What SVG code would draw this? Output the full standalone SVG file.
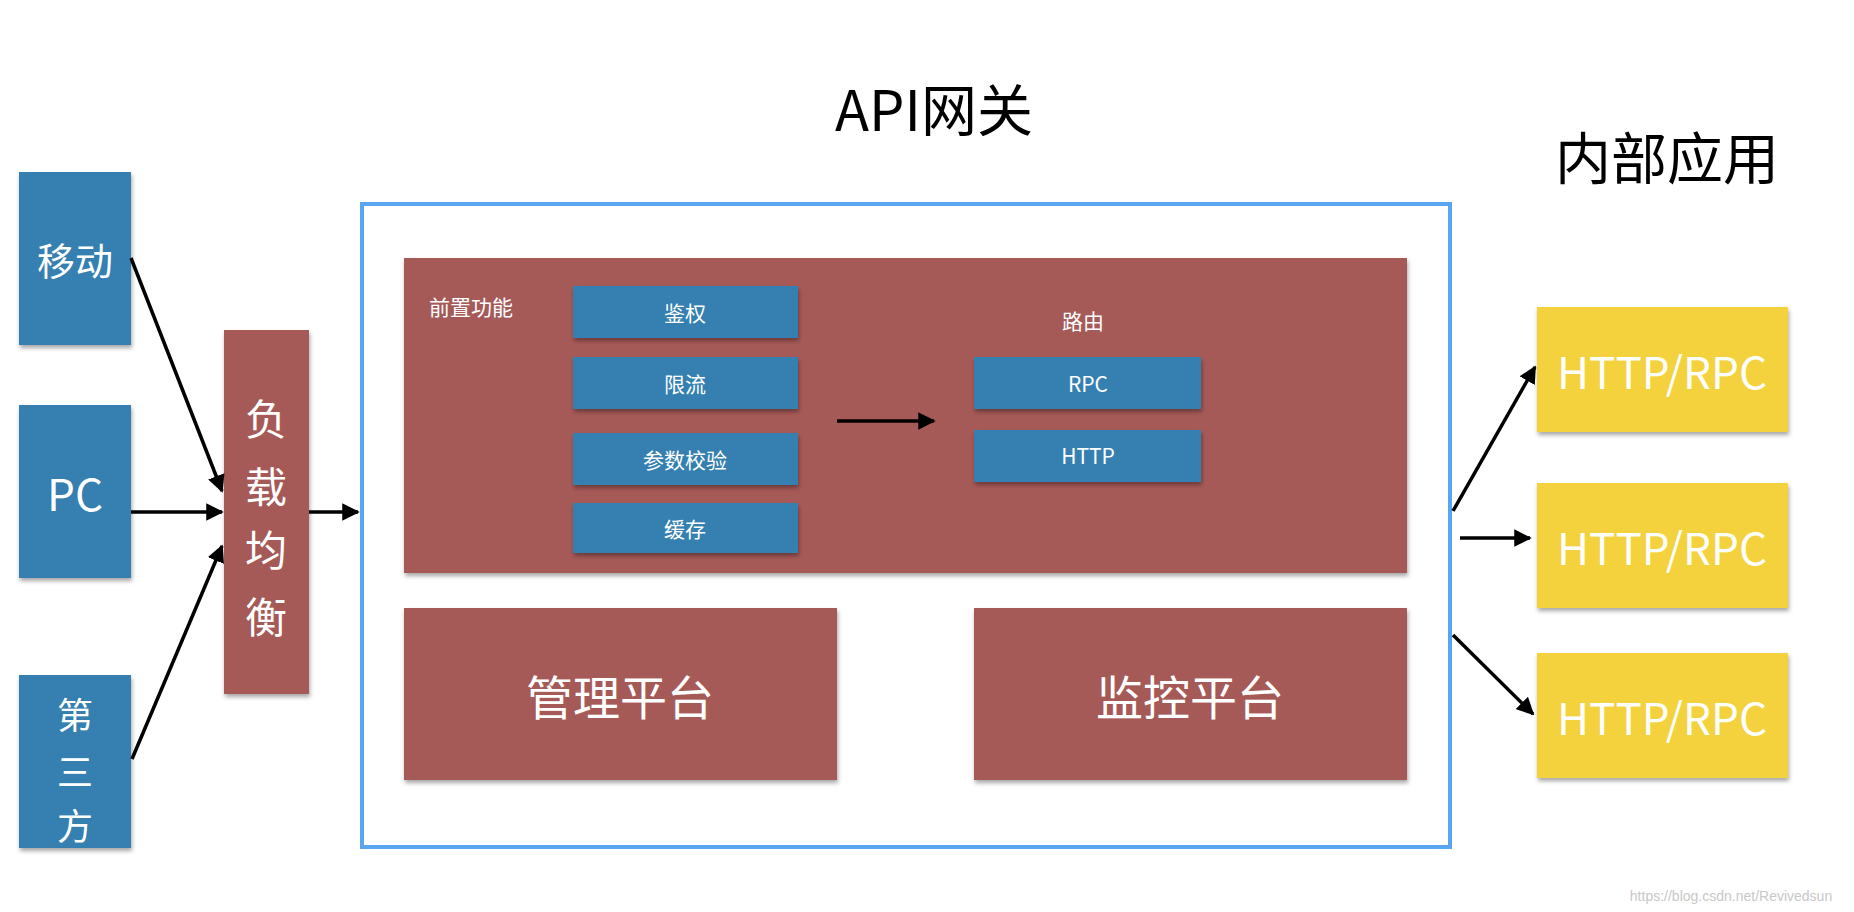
<svg xmlns="http://www.w3.org/2000/svg" width="1854" height="912" viewBox="0 0 1854 912">
<style>
text{font-family:"Noto Sans CJK SC","Liberation Sans",sans-serif;text-anchor:middle;dominant-baseline:central}
.w{fill:#fff}
.blue{fill:#3480b0;filter:url(#sh)}
.red{fill:#a65a58;filter:url(#sh)}
.yel{fill:#f3d23d;filter:url(#sh)}
.c{stroke:#000;stroke-width:3.5;fill:none;marker-end:url(#ah)}
</style>
<defs>
<filter id="sh" x="-10%" y="-10%" width="120%" height="130%"><feDropShadow dx="1" dy="3" stdDeviation="2" flood-color="#000" flood-opacity="0.35"/></filter>
<marker id="ah" viewBox="0 0 10 10" refX="9" refY="5" markerWidth="5" markerHeight="5" orient="auto" markerUnits="strokeWidth"><path d="M0,0L10,5L0,10z" fill="#000"/></marker>
</defs>
<rect width="1854" height="912" fill="#fff"/>
<text x="934" y="106" font-size="56" fill="#000">API网关</text>
<text x="1667" y="154" font-size="56" fill="#000">内部应用</text>
<g id="outer"><rect x="362" y="204" width="1088" height="643" fill="none" stroke="#5aa5f0" stroke-width="4"/></g>
<g id="mobile"><rect class="blue" x="19" y="172" width="112" height="173"/><text class="w" x="75" y="258" font-size="38">移动</text></g>
<g id="pc"><rect class="blue" x="19" y="405" width="112" height="173"/><text class="w" x="75" y="492" font-size="44">PC</text></g>
<g id="third"><rect class="blue" x="19" y="675" width="112" height="173"/><text class="w" x="75" y="713" font-size="36">第</text><text class="w" x="75" y="770" font-size="36">三</text><text class="w" x="75" y="824" font-size="36">方</text></g>
<g id="lb"><rect class="red" x="224" y="330" width="85" height="364"/><text class="w" x="266" y="416" font-size="42">负</text><text class="w" x="266" y="484" font-size="42">载</text><text class="w" x="266" y="547" font-size="42">均</text><text class="w" x="266" y="614" font-size="42">衡</text></g>
<g id="front"><rect class="red" x="404" y="258" width="1003" height="315"/><text class="w" x="471" y="306" font-size="21">前置功能</text><text class="w" x="1083" y="320" font-size="21">路由</text></g>
<g id="auth"><rect class="blue" x="573" y="286" width="225" height="52"/><text class="w" x="685" y="312" font-size="21">鉴权</text></g>
<g id="limit"><rect class="blue" x="573" y="357" width="225" height="52"/><text class="w" x="685" y="383" font-size="21">限流</text></g>
<g id="param"><rect class="blue" x="573" y="433" width="225" height="52"/><text class="w" x="685" y="459" font-size="21">参数校验</text></g>
<g id="cache"><rect class="blue" x="573" y="503" width="225" height="50"/><text class="w" x="685" y="528" font-size="21">缓存</text></g>
<g id="rpc"><rect class="blue" x="974" y="357" width="227" height="52"/><text class="w" x="1088" y="383" font-size="21">RPC</text></g>
<g id="http"><rect class="blue" x="974" y="430" width="227" height="52"/><text class="w" x="1088" y="455" font-size="21">HTTP</text></g>
<g id="mgmt"><rect class="red" x="404" y="608" width="433" height="172"/><text class="w" x="620" y="694" font-size="47">管理平台</text></g>
<g id="mon"><rect class="red" x="974" y="608" width="433" height="172"/><text class="w" x="1190" y="694" font-size="47">监控平台</text></g>
<g id="y1"><rect class="yel" x="1537" y="307" width="251" height="125"/><text class="w" x="1662" y="370" font-size="44">HTTP/RPC</text></g>
<g id="y2"><rect class="yel" x="1537" y="483" width="251" height="125"/><text class="w" x="1662" y="546" font-size="44">HTTP/RPC</text></g>
<g id="y3"><rect class="yel" x="1537" y="653" width="251" height="125"/><text class="w" x="1662" y="716" font-size="44">HTTP/RPC</text></g>
<g id="connectors">
<line class="c" x1="131" y1="258" x2="222" y2="491"/>
<line class="c" x1="131" y1="512" x2="222" y2="512"/>
<line class="c" x1="132" y1="759" x2="222" y2="546"/>
<line class="c" x1="309" y1="512" x2="358" y2="512"/>
<line class="c" x1="837" y1="421" x2="934" y2="421"/>
<line class="c" x1="1453" y1="511" x2="1535" y2="367"/>
<line class="c" x1="1460" y1="538" x2="1530" y2="538"/>
<line class="c" x1="1453" y1="635" x2="1533" y2="714"/>
</g>
<text x="1731" y="896" font-size="14" fill="#c8c8c8" style="font-family:'Liberation Sans',sans-serif">https://blog.csdn.net/Revivedsun</text>
</svg>
